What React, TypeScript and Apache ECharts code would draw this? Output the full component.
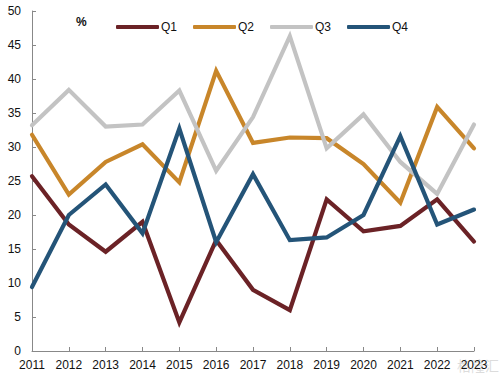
import React, { useEffect, useRef } from "react";
import * as echarts from "echarts";

const categories = ["2011", "2012", "2013", "2014", "2015", "2016", "2017", "2018", "2019", "2020", "2021", "2022", "2023"];
const q1 = [25.7, 18.6, 14.6, 19.0, 4.2, 16.3, 9.0, 6.0, 22.3, 17.6, 18.4, 22.3, 16.1];
const q2 = [31.8, 23.0, 27.8, 30.4, 24.8, 41.2, 30.6, 31.4, 31.3, 27.5, 21.8, 35.9, 29.8];
const q3 = [33.2, 38.4, 33.0, 33.3, 38.3, 26.5, 34.4, 46.3, 29.8, 34.8, 27.8, 23.1, 33.3];
const q4 = [9.4, 20.0, 24.5, 17.3, 32.7, 16.0, 26.0, 16.3, 16.7, 20.0, 31.6, 18.6, 20.8];
const seriesNames = ["Q1", "Q2", "Q3", "Q4"];
const colors = ["#6B2226", "#C8862A", "#C3C3C3", "#245478"];

export default function App() {
  const ref = useRef<HTMLDivElement>(null);
  useEffect(() => {
    if (!ref.current) return;
    const chart = echarts.init(ref.current, undefined, { renderer: "svg" });
    const data = [q1, q2, q3, q4];
    chart.setOption({
      animation: false,
      textStyle: { fontFamily: "Liberation Sans, Arial, sans-serif" },
      grid: { left: 32, right: 29, top: 11, bottom: 32, containLabel: false },
      legend: {
        data: seriesNames,
        left: 111,
        top: 16,
        icon: "roundRect",
        itemWidth: 43,
        itemHeight: 4,
        itemGap: 16,
        itemStyle: { borderWidth: 0 },
        textStyle: { fontSize: 12, color: "#111", padding: [0, 0, 0, -3] },
      },
      graphic: [
        { type: "text", left: 76, top: 16, style: { text: "%", fontSize: 12, fontWeight: "bold", fill: "#111" } },
        { type: "text", left: 457, top: 358, style: { text: "格隆汇", fontSize: 14, fill: "rgba(190,190,190,0.55)", fontFamily: "Noto Sans CJK SC" } },
      ],
      xAxis: {
        type: "category",
        data: categories,
        boundaryGap: false,
        axisLine: { lineStyle: { color: "#888", width: 1 } },
        axisTick: { inside: true, length: 4, lineStyle: { color: "#888" }, alignWithLabel: true },
        axisLabel: { color: "#111", fontSize: 12, margin: 8, interval: 0 },
      },
      yAxis: {
        type: "value",
        min: 0,
        max: 50,
        interval: 5,
        splitLine: { show: false },
        axisLine: { show: true, lineStyle: { color: "#888", width: 1 } },
        axisTick: { show: true, inside: true, length: 4, lineStyle: { color: "#888" } },
        axisLabel: { color: "#111", fontSize: 12, margin: 11 },
      },
      series: seriesNames.map((name, i) => ({
        name,
        type: "line",
        data: data[i],
        symbol: "none",
        color: colors[i],
        lineStyle: { width: 4.2, color: colors[i], cap: "round", join: "miter" },
      })),
    });
    return () => chart.dispose();
  }, []);
  return <div ref={ref} style={{ width: 503, height: 383, position: "absolute", left: 0, top: 0 }} />;
}
